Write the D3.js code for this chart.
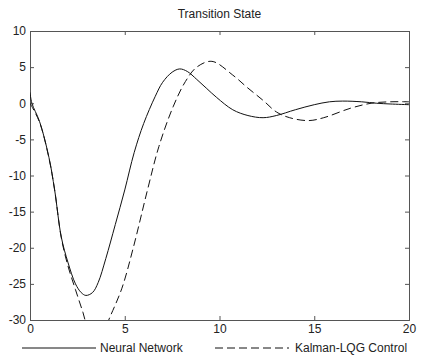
<!DOCTYPE html>
<html><head><meta charset="utf-8">
<script src="https://cdn.jsdelivr.net/npm/d3@7"></script>
<style>body{margin:0;background:#fff}svg{display:block}</style>
</head><body>
<svg id="c" width="421" height="356"></svg>
<script>
const title = "Transition State";
const xTicks = [0, 5, 10, 15, 20];
const yTicks = [10, 5, 0, -5, -10, -15, -20, -25, -30];
const seriesNames = ["Neural Network", "Kalman-LQG Control"];
const nnT = [0, 0.1, 0.5, 1.0, 1.3, 1.65, 2.0, 2.4, 2.7, 2.95, 3.3, 3.6, 4.0, 4.5, 5.0, 5.5, 6.0, 6.6, 7.0, 7.5, 7.9, 8.3, 8.8, 9.3, 9.85, 10.7, 11.5, 12.3, 13.0, 14.0, 15.0, 15.8, 16.5, 17.5, 18.3, 19.0, 20];
const nnV = [1.5, 0, -2.5, -7.5, -12, -18.5, -22, -25, -26.2, -26.6, -26.2, -24.8, -21.5, -16.8, -12, -6.8, -2.8, 0.9, 2.9, 4.3, 4.75, 4.4, 3.3, 2.1, 0.8, -0.9, -1.7, -2.0, -1.7, -0.9, -0.2, 0.2, 0.3, 0.2, 0, -0.1, -0.2];
const kT = [0, 0.5, 1.0, 1.3, 1.65, 2.0, 2.4, 2.8, 3.1, 3.5, 3.9, 4.2, 4.85, 5.45, 6.2, 6.8, 7.55, 8.2, 8.8, 9.6, 10.7, 11.5, 12.3, 13.0, 13.7, 14.7, 15.5, 16.9, 18.0, 19.0, 20];
const kV = [0, -2.6, -7.6, -12, -18.6, -22.5, -25.8, -29, -31.5, -32.5, -31.5, -29.7, -25.6, -20, -12, -6, -0.5, 3, 5, 5.8, 3.9, 2.1, 0.4, -1.2, -2.0, -2.4, -2.0, -0.7, 0, 0.2, 0.2];

const svg = d3.select("#c");
const L = 30, R = 409, T = 31, B = 320;
const x = d3.scaleLinear().domain([0, 20]).range([L, R]);
const y = d3.scaleLinear().domain([-30, 10]).range([B, T]);
const font = "'Liberation Sans', Arial, sans-serif";
const ink = "#222";

svg.append("defs").append("clipPath").attr("id", "clip")
  .append("rect").attr("x", L).attr("y", T).attr("width", R - L).attr("height", B - T);

const fmt = d => String(d);
const tl = 4;
svg.append("g").attr("transform", `translate(0,${B})`)
  .call(d3.axisBottom(x).tickValues(xTicks).tickSize(-tl).tickPadding(4).tickFormat(fmt));
svg.append("g").attr("transform", `translate(0,${T})`)
  .call(d3.axisTop(x).tickValues(xTicks).tickSize(-tl).tickFormat(""));
svg.append("g").attr("transform", `translate(${L},0)`)
  .call(d3.axisLeft(y).tickValues(yTicks).tickSize(-tl).tickPadding(4).tickFormat(fmt));
svg.append("g").attr("transform", `translate(${R},0)`)
  .call(d3.axisRight(y).tickValues(yTicks).tickSize(-tl).tickFormat(""));
svg.selectAll(".domain").attr("stroke", "#555").attr("stroke-width", 1);
svg.selectAll(".tick line").attr("stroke", "#555");
svg.selectAll(".tick text").attr("font-family", font).attr("font-size", 12).attr("fill", ink);

const line = d3.line().x(d => x(d[0])).y(d => y(d[1])).curve(d3.curveCatmullRom.alpha(0.5));
const g = svg.append("g").attr("clip-path", "url(#clip)");
g.append("path").datum(nnT.map((t, i) => [t, nnV[i]])).attr("d", line)
  .attr("fill", "none").attr("stroke", "#111").attr("stroke-width", 1);
g.append("path").datum(kT.map((t, i) => [t, kV[i]])).attr("d", line)
  .attr("fill", "none").attr("stroke", "#111").attr("stroke-width", 1).attr("stroke-dasharray", "8,4");

svg.append("text").attr("x", (L + R) / 2).attr("y", 18).attr("text-anchor", "middle")
  .attr("font-family", font).attr("font-size", 12).attr("fill", ink).text(title);

// legend
const ly = 348;
const leg = [{x1: 22, x2: 96, tx: 100, dash: null}, {x1: 215, x2: 289, tx: 295, dash: "8,4"}];
leg.forEach((d, i) => {
  svg.append("line").attr("x1", d.x1).attr("x2", d.x2).attr("y1", ly).attr("y2", ly)
    .attr("stroke", "#111").attr("stroke-width", 1).attr("stroke-dasharray", d.dash);
  svg.append("text").attr("x", d.tx).attr("y", ly).attr("dy", "0.35em")
    .attr("font-family", font).attr("font-size", 12).attr("fill", ink).text(seriesNames[i]);
});
</script>
</body></html>
